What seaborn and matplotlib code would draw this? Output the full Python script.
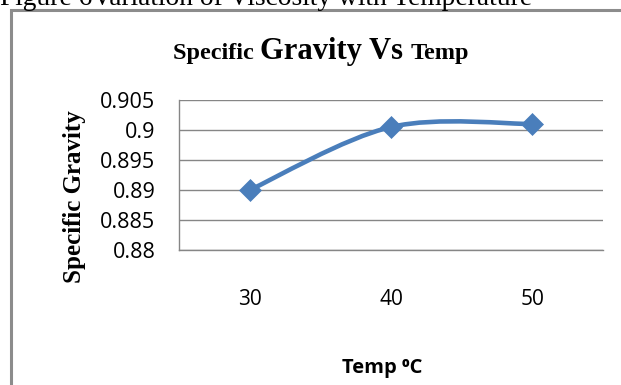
import numpy as np
import matplotlib
matplotlib.use("Agg")
import matplotlib.pyplot as plt
from matplotlib.path import Path
from matplotlib.patches import PathPatch, Rectangle
import seaborn as sns
import pandas as pd

# ---- data ----
temps = ["30", "40", "50"]
specific_gravity = [0.890, 0.9005, 0.901]
y_ticks = [0.88, 0.885, 0.89, 0.895, 0.9, 0.905]
y_tick_labels = ["0.88", "0.885", "0.89", "0.895", "0.9", "0.905"]

caption = "Figure 6Variation of Viscosity with Temperature"
title_parts = [("Specific ", 17.5), ("Gravity Vs ", 22), ("Temp", 17.5)]
y_label = "Specific Gravity"
x_label = "Temp \u2070C"

sns.set_theme(style="white")
plt.rcParams["font.family"] = ["Open Sans", "DejaVu Sans"]

W, H = 621, 385
fig = plt.figure(figsize=(W / 100, H / 100), dpi=100)
fig.patch.set_facecolor("white")

L, R, T, B = 179, 603, 100, 250
ax = fig.add_axes([L / W, 1 - B / H, (R - L) / W, (B - T) / H])

df = pd.DataFrame({"temp": temps, "sg": specific_gravity})
line_color = "#4A7EBB"

# smoothed line (Excel-style Catmull-Rom) in data coordinates
xs = np.arange(len(temps), dtype=float)
ys = np.asarray(specific_gravity, dtype=float)
pts = np.column_stack([xs, ys])
verts = [tuple(pts[0])]
codes = [Path.MOVETO]
n = len(pts)
for i in range(n - 1):
    p0 = pts[max(i - 1, 0)]
    p1 = pts[i]
    p2 = pts[i + 1]
    p3 = pts[min(i + 2, n - 1)]
    c1 = p1 + (p2 - p0) / 6.0
    c2 = p2 - (p3 - p1) / 6.0
    verts += [tuple(c1), tuple(c2), tuple(p2)]
    codes += [Path.CURVE4] * 3
ax.add_patch(PathPatch(Path(verts, codes), facecolor="none",
                       edgecolor=line_color, lw=3.3, zorder=3,
                       capstyle="round", joinstyle="round"))

sns.scatterplot(data=df, x="temp", y="sg", marker="D", s=125,
                color=line_color, edgecolor=line_color, linewidth=0.5,
                ax=ax, zorder=4, legend=False)

ax.set_xlim(-0.5, 2.5)
ax.set_ylim(0.88, 0.905)
ax.set_yticks(y_ticks)
ax.set_yticklabels(y_tick_labels)
ax.set_xticks(range(len(temps)))
ax.set_xticklabels(temps)
ax.set_xlabel("")
ax.set_ylabel("")
ax.tick_params(axis="y", length=0, pad=17, labelsize=15.5, colors="black")
ax.tick_params(axis="x", length=0, pad=28, labelsize=15, colors="black")
for lab in ax.get_xticklabels() + ax.get_yticklabels():
    lab.set_color("black")

ax.grid(axis="y", color="#868686", lw=1.0)
ax.grid(axis="x", visible=False)
ax.set_axisbelow(True)
for s in ["top", "right"]:
    ax.spines[s].set_visible(False)
for s in ["left", "bottom"]:
    ax.spines[s].set_color("#868686")
    ax.spines[s].set_linewidth(1.0)
ax.set_facecolor("white")

# chart frame
fig.patches.append(Rectangle((11 / W, -0.1), 1.2, 1 - 10 / H + 0.1,
                             transform=fig.transFigure, facecolor="none",
                             edgecolor="#8c8c8c", lw=2.2, zorder=0))

# caption (cut at top, as in the source page)
fig.text(0 / W, 1 - 5 / H, caption, family="Liberation Serif", fontsize=19.8,
         ha="left", va="baseline", color="black")

# title with mixed sizes
fig.canvas.draw()
renderer = fig.canvas.get_renderer()
texts = []
widths = []
for s, fs in title_parts:
    t = fig.text(0, 1 - 59 / H, s, family="Liberation Serif", weight="bold",
                 fontsize=fs, ha="left", va="baseline", color="black")
    texts.append(t)
    bb = t.get_window_extent(renderer)
    widths.append(bb.width)
total = sum(widths)
x0 = 321 - total / 2
for t, w in zip(texts, widths):
    t.set_x(x0 / W)
    x0 += w

fig.text(75 / W, 1 - 197 / H, y_label, family="Liberation Serif", weight="bold",
         fontsize=18, rotation=90, ha="center", va="center", color="black")

fig.text(382 / W, 1 - 368 / H, x_label, family=["Open Sans", "DejaVu Sans"],
         weight="bold", fontsize=14.5, ha="center", va="center", color="black")

fig.savefig("out.png", dpi=100, facecolor="white")
